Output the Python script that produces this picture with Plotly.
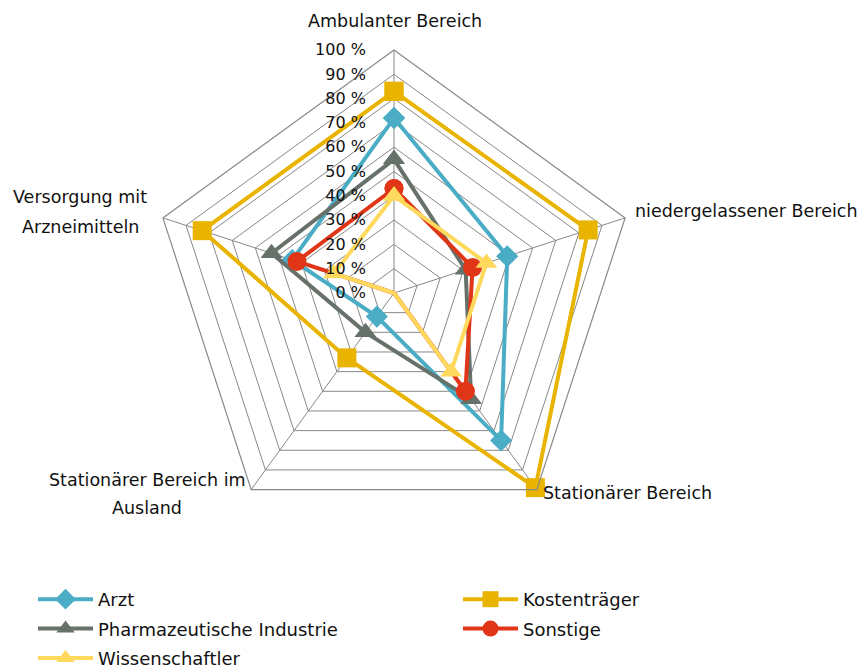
import plotly.graph_objects as go

# axes (clockwise from top)
bereiche = ["Ambulanter Bereich", "niedergelassener Bereich", "Stationärer Bereich",
            "Stationärer Bereich im Ausland", "Versorgung mit Arzneimitteln"]

# percentages
arzt = [72, 49, 75, 12, 44]
kostentraeger = [83, 84, 99, 33, 83]
pharma = [55, 31, 54, 20, 53]
sonstige = [43, 34, 50, 0, 42]
wissenschaftler = [40, 40, 40, 0, 26]

radial_ticks = [0, 10, 20, 30, 40, 50, 60, 70, 80, 90, 100]

# name, values, colour, marker, size, legend column
series = [
    ("Arzt", arzt, "#4bacc6", "diamond", 17, "legend"),
    ("Kostenträger", kostentraeger, "#e9b400", "square", 19, "legend2"),
    ("Pharmazeutische Industrie", pharma, "#66716a", "triangle-up", 19, "legend"),
    ("Sonstige", sonstige, "#e03516", "circle", 19, "legend2"),
    ("Wissenschaftler", wissenschaftler, "#ffd95c", "triangle-up", 19, "legend"),
]

fig = go.Figure()
for name, vals, col, sym, sz, leg in series:
    fig.add_trace(go.Scatterpolar(
        r=vals + vals[:1],
        theta=bereiche + bereiche[:1],
        name=name,
        legend=leg,
        legendgroup=name,
        mode="lines+markers",
        line=dict(color=col, width=4),
        marker=dict(symbol=sym, size=sz, color=col),
    ))

font = "DejaVu Sans"

# page has an 8px body margin, positions below are in figure pixels
W, H = 867, 670
labels = [
    ("Ambulanter Bereich", 387, 13, "center"),
    ("niedergelassener Bereich", 625, 203, "left"),
    ("Stationärer Bereich", 533, 485, "left"),
    ("Stationärer Bereich im", 139, 472, "center"),
    ("Ausland", 139, 500, "center"),
    ("Versorgung mit", 72, 189, "center"),
    ("Arzneimitteln", 72, 219, "center"),
]
annotations = [
    dict(text=t, x=px / W, y=1 - py / H, xref="paper", yref="paper",
         xanchor=anc, yanchor="middle", showarrow=False,
         font=dict(family=font, size=17.5, color="#111111"))
    for t, px, py, anc in labels
]

leg_style = dict(
    orientation="v", yanchor="top", itemwidth=55, traceorder="grouped",
    font=dict(family=font, size=18, color="#111111"),
    tracegroupgap=3, bgcolor="rgba(0,0,0,0)",
)

fig.update_layout(
    width=W, height=H,
    margin=dict(l=0, r=0, t=0, b=0, autoexpand=False),
    paper_bgcolor="white",
    plot_bgcolor="white",
    font=dict(family=font, size=16, color="#111111"),
    annotations=annotations,
    polar=dict(
        domain=dict(x=[143 / W, 629 / W], y=[1 - 528 / H, 1 - 42 / H]),
        gridshape="linear",
        bgcolor="white",
        angularaxis=dict(
            direction="clockwise", rotation=90,
            showticklabels=False, ticks="",
            gridcolor="#888888", gridwidth=1.2,
            linecolor="#888888", linewidth=1.2, showline=True,
        ),
        radialaxis=dict(
            range=[0, 100], tickvals=radial_ticks,
            ticktext=[f"{v} %" for v in radial_ticks],
            angle=90, tickangle=90, side="counterclockwise",
            showline=False, ticks="outside", ticklen=22,
            tickcolor="rgba(0,0,0,0)",
            gridcolor="#888888", gridwidth=1.2,
            tickfont=dict(family=font, size=16, color="#111111"),
        ),
    ),
    legend=dict(x=25 / W, y=1 - 573 / H, **leg_style),
    legend2=dict(x=450 / W, y=1 - 573 / H, **leg_style),
)

fig.write_html("out.html")
